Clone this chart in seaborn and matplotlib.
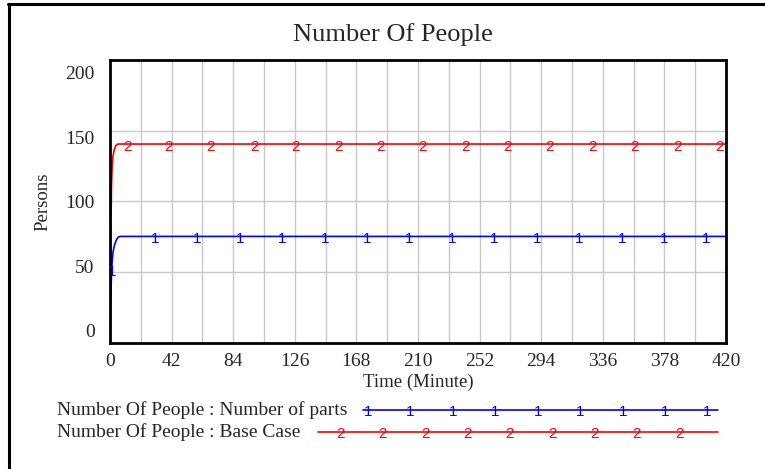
import matplotlib
matplotlib.use("Agg")
import matplotlib.pyplot as plt
from matplotlib.lines import Line2D
import numpy as np
import pandas as pd
import seaborn as sns

# Simulation output (Persons vs Minute)
time = [0, 0.5, 1, 1.5, 2, 3, 4, 5, 6, 7, 420]
parts = [0, 30, 48, 58, 64, 69, 72, 74, 75, 75.3, 75.3]
base = [0, 70, 110, 125, 132, 137, 139.5, 140.5, 140.6, 140.6, 140.6]

# where Vensim stamped the "1" / "2" series labels along each run
parts_marks = [1.2, 30.7, 59.3, 88.6, 117.2, 146.6, 175.2, 203.8, 233.1,
               261.8, 291.1, 319.7, 349.0, 377.6, 406.3]
base_marks = [11.6, 40.2, 68.8, 98.2, 126.8, 156.1, 184.7, 213.4, 242.7,
              271.3, 299.9, 329.2, 357.8, 387.1, 415.8]

x_ticks = [0, 42, 84, 126, 168, 210, 252, 294, 336, 378, 420]
y_ticks = [0, 50, 100, 150, 200]

runs = [
    ("Number Of People : Number of parts", parts, parts_marks, "1", "#0000ff"),
    ("Number Of People : Base Case", base, base_marks, "2", "#ff0000"),
]

sns.set_theme(style="white")
plt.rcParams["font.family"] = ["Liberation Serif", "DejaVu Serif"]
tag_font = ["Liberation Sans", "DejaVu Sans"]

fig = plt.figure(figsize=(7.65, 4.69), dpi=100)
ax = fig.add_axes([0.1438, 0.2687, 0.8052, 0.6034])

df = pd.DataFrame({"time": time, "parts": parts, "base": base})
for label, vals, marks, tag, color in runs:
    col = "parts" if tag == "1" else "base"
    sns.lineplot(data=df, x="time", y=col, ax=ax, color=color, lw=1.2,
                 estimator=None, legend=False)
    for t in marks:
        v = np.interp(t, time, vals)
        ax.annotate(tag, (t, v), xytext=(0, -2.2), textcoords="offset points",
                    ha="center", va="center", color=color, fontsize=11,
                    family=tag_font)

ax.set_xlim(0, 420)
ax.set_ylim(0, 200)

# grid every half step like Vensim
ax.set_xticks(x_ticks)
ax.set_xticks([t + 21 for t in x_ticks[:-1]], minor=True)
ax.set_xticklabels([str(t) for t in x_ticks], fontsize=14)

# Vensim spreads the y labels a bit unevenly vs. the grid lines
lo, hi = 8.5, 191
ax.set_yticks([lo + v * (hi - lo) / 200 for v in y_ticks])
ax.set_yticklabels([str(v) for v in y_ticks], fontsize=14)
ax.set_yticks(y_ticks[1:-1], minor=True)

ax.grid(False)
ax.grid(True, which="minor", color="#c8c8c8", lw=1.0)
ax.grid(True, which="major", axis="x", color="#c8c8c8", lw=1.0)
ax.tick_params(which="both", length=0)
ax.tick_params(axis="y", pad=11)
ax.tick_params(axis="x", pad=7)
for s in ax.spines.values():
    s.set_color("black")
    s.set_linewidth(2.0)

ax.set_xlabel("Time (Minute)", fontsize=13.5, labelpad=3)
ax.set_ylabel("Persons", fontsize=13.5, labelpad=10)
fig.text(0.514, 0.926, "Number Of People", ha="center", va="center", fontsize=19)

# legend block under the plot
leg_rows = [0.126, 0.079]
leg_start = [0.475, 0.416]
for (label, vals, marks, tag, color), yy, x0 in zip(runs, leg_rows, leg_start):
    fig.text(0.074, yy, label, ha="left", va="center", fontsize=14)
    fig.add_artist(Line2D([x0, 0.939], [yy, yy], transform=fig.transFigure,
                          color=color, lw=1.2))
    first = 0.481 if tag == "1" else 0.445
    last = 0.925 if tag == "1" else 0.888
    for xx in np.linspace(first, last, 9):
        fig.text(xx, yy - 0.004, tag, ha="center", va="center", color=color,
                 fontsize=11, family=tag_font)

# outer frame (top and left edges only)
fig.add_artist(Line2D([0.011, 1.0], [0.991, 0.991], transform=fig.transFigure,
                      color="black", lw=2.2))
fig.add_artist(Line2D([0.0115, 0.0115], [0.0, 0.991], transform=fig.transFigure,
                      color="black", lw=2.2))

fig.savefig("out.png", dpi=100)
